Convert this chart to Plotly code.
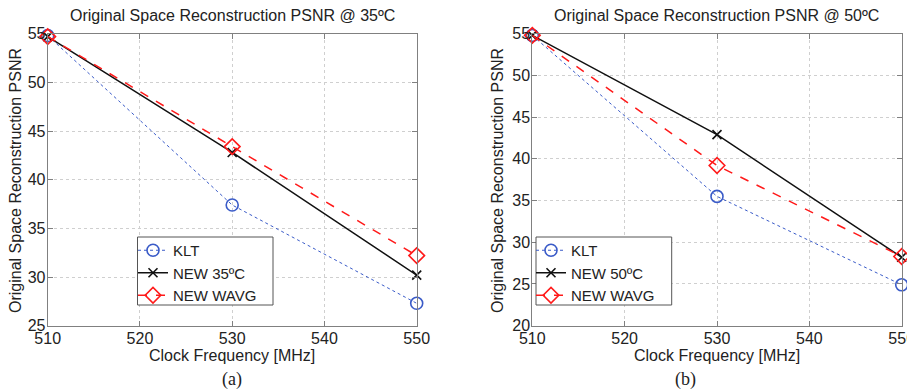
import plotly.graph_objects as go

# ---- data ----
freq = [510, 530, 550]
klt_35 = [54.8, 37.4, 27.3]
new_35 = [54.7, 42.8, 30.2]
wavg_35 = [54.7, 43.4, 32.2]

klt_50 = [54.8, 35.5, 24.9]
new_50 = [54.8, 42.9, 28.2]
wavg_50 = [54.8, 39.2, 28.3]

x_ticks = [510, 520, 530, 540, 550]
titles = ["Original Space Reconstruction PSNR @ 35ºC",
          "Original Space Reconstruction PSNR @ 50ºC"]
captions = ["(a)", "(b)"]
legend_names_35 = ["KLT", "NEW 35ºC", "NEW WAVG"]
legend_names_50 = ["KLT", "NEW 50ºC", "NEW WAVG"]

# page body has an 8px default margin, so the figure is offset by it
OFF = 8
W, H = 915 - OFF, 391 - OFF
FONT = "Liberation Sans, Arial, sans-serif"
TXT = "#222222"
AX = "#808080"
GRID = "#cfcfcf"

BLUE = "#3a5bc8"
RED = "#ff1a1a"
BLACK = "#111111"


def px(x):
    return (x - OFF) / W


def py(y):
    return 1 - (y - OFF) / H


fig = go.Figure()

def add_set(xa, ya, leg, names, k, n, w):
    fig.add_trace(go.Scatter(
        x=freq, y=k, name=names[0], xaxis=xa, yaxis=ya, legend=leg,
        mode="lines+markers", cliponaxis=False,
        line=dict(color=BLUE, width=1, dash="dot"),
        marker=dict(symbol="circle-open", size=12, color=BLUE, line=dict(width=1.6, color=BLUE))))
    fig.add_trace(go.Scatter(
        x=freq, y=n, name=names[1], xaxis=xa, yaxis=ya, legend=leg,
        mode="lines+markers", cliponaxis=False,
        line=dict(color=BLACK, width=1.5),
        marker=dict(symbol="x-thin-open", size=9, color=BLACK, line=dict(width=1.6, color=BLACK))))
    fig.add_trace(go.Scatter(
        x=freq, y=w, name=names[2], xaxis=xa, yaxis=ya, legend=leg,
        mode="lines+markers", cliponaxis=False,
        line=dict(color=RED, width=1.5, dash="dash"),
        marker=dict(symbol="diamond-open", size=12, color=RED, line=dict(width=1.6, color=RED))))

add_set("x", "y", "legend", legend_names_35, klt_35, new_35, wavg_35)
add_set("x2", "y2", "legend2", legend_names_50, klt_50, new_50, wavg_50)

axis_common = dict(
    showline=True, linecolor=AX, linewidth=1, mirror="ticks",
    ticks="inside", ticklen=5, tickcolor=AX, automargin=False,
    showgrid=True, gridcolor=GRID, griddash="dot", gridwidth=1,
    zeroline=False, ticklabelstandoff=-2, ticklabeloverflow="allow",
    tickfont=dict(family=FONT, size=16, color=TXT),
)

top, bottom = 33.7, 325.7

leg_common = dict(xanchor="left", yanchor="top",
                  bgcolor="rgba(0,0,0,0)", borderwidth=0,
                  font=dict(family=FONT, size=15, color=TXT),
                  tracegroupgap=0, itemwidth=30)

fig.update_layout(
    width=W, height=H,
    margin=dict(l=0, r=0, t=0, b=0, autoexpand=False),
    paper_bgcolor="white", plot_bgcolor="white",
    font=dict(family=FONT, size=16, color=TXT),
    xaxis=dict(domain=[px(47.7), px(416.7)], range=[510, 550], tickvals=x_ticks,
               anchor="y", **axis_common),
    yaxis=dict(domain=[py(bottom), py(top)], range=[25, 55], dtick=5,
               anchor="x", **axis_common),
    xaxis2=dict(domain=[px(532.3), px(901.7)], range=[510, 550], tickvals=x_ticks,
                anchor="y2", **axis_common),
    yaxis2=dict(domain=[py(bottom), py(top)], range=[20, 55], dtick=5,
                anchor="x2", **axis_common),
    legend=dict(x=px(133), y=py(234), **leg_common),
    legend2=dict(x=px(531), y=py(234), **leg_common),
    showlegend=True,
)

shapes = []
for x0, x1 in [(137.5, 273), (536, 671.7)]:
    shapes.append(dict(type="rect", xref="paper", yref="paper",
                       x0=px(x0), x1=px(x1), y0=py(305), y1=py(237),
                       fillcolor="white", line=dict(color="#555555", width=1),
                       layer="above"))
fig.update_layout(shapes=shapes)

ann = []
for cx, t in zip([232, 716.7], titles):
    ann.append(dict(x=px(cx), y=py(16), xref="paper", yref="paper", text=t,
                    showarrow=False, xanchor="center", yanchor="middle",
                    font=dict(family=FONT, size=16, color=TXT)))
for cx in [232, 717]:
    ann.append(dict(x=px(cx), y=py(355), xref="paper", yref="paper",
                    text="Clock Frequency [MHz]", showarrow=False,
                    xanchor="center", yanchor="middle",
                    font=dict(family=FONT, size=16, color=TXT)))
for cx in [16, 498]:
    ann.append(dict(x=px(cx), y=py(181), xref="paper", yref="paper",
                    text="Original Space Reconstruction PSNR", showarrow=False,
                    textangle=-90, xanchor="center", yanchor="middle",
                    font=dict(family=FONT, size=16, color=TXT)))
for cx, c in zip([232, 685], captions):
    ann.append(dict(x=px(cx), y=py(379), xref="paper", yref="paper",
                    text=c, showarrow=False, xanchor="center", yanchor="middle",
                    font=dict(family="Liberation Serif, Times New Roman, serif", size=18, color=TXT)))
fig.update_layout(annotations=ann)

fig.write_html("out.html")
